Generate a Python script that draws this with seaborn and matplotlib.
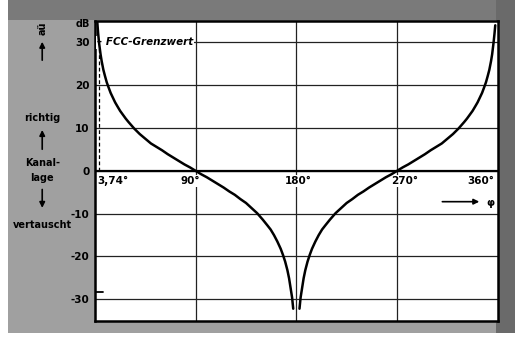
import matplotlib
matplotlib.use("Agg")
import matplotlib.pyplot as plt
import pandas as pd
import seaborn as sns
from matplotlib.patches import Rectangle

# values (phase in degrees, separation in dB)
phi_left = [2.0, 2.8, 3.74, 5, 6, 7.5, 9, 10.5, 12, 14, 16, 18, 20, 22.5, 25, 27.5, 30, 35, 40, 45,
            50, 55, 60, 65, 70, 75, 80, 85, 90, 95, 100, 105, 110, 115, 120, 125, 130, 135,
            140, 145, 150, 154, 157, 160, 163, 166, 168, 170, 172, 173.5, 175, 176.2, 177.2]
db_left = [35.0, 32.2, 29.7, 27.2, 25.6, 23.6, 22.1, 20.7, 19.6, 18.2, 17.1, 16.0, 15.1, 14.0,
           13.1, 12.2, 11.4, 9.9, 8.6, 7.5, 6.4, 5.6, 4.8, 3.9, 3.1, 2.3, 1.5, 0.8, 0.0,
           -0.8, -1.5, -2.3, -3.1, -3.9, -4.8, -5.6, -6.6, -7.5, -8.7, -9.9, -11.4, -12.7,
           -13.7, -15.0, -16.5, -18.2, -19.6, -21.2, -23.2, -25.1, -27.6, -29.6, -32.2]
phi_right = [182.8, 183.8, 185, 186.5, 188, 190, 192, 194, 197, 200, 203, 206, 210, 215,
             220, 225, 230, 235, 240, 245, 250, 255, 260, 265, 270, 275, 280, 285, 290, 295,
             300, 305, 310, 315, 320, 325, 330, 332.5, 335, 337.5, 340, 342, 344, 346, 348,
             349.5, 351, 352.5, 354, 355, 356.3, 357.1, 357.8]
db_right = [-32.2, -29.6, -27.6, -25.1, -23.2, -21.2, -19.6, -18.2, -16.5, -15.0, -13.7, -12.7,
            -11.4, -9.9, -8.7, -7.5, -6.6, -5.6, -4.8, -3.9, -3.1, -2.3, -1.5, -0.8, 0.0,
            0.8, 1.5, 2.3, 3.1, 3.9, 4.8, 5.6, 6.4, 7.5, 8.6, 9.9, 11.4, 12.2, 13.1, 14.0,
            15.1, 16.0, 17.1, 18.2, 19.6, 20.7, 22.1, 23.6, 25.6, 27.2, 30.0, 32.0, 34.0]

y_ticks = [30, 20, 10, 0, -10, -20, -30]
y_labels = ["30", "20", "10", "0", "-10", "-20", "-30"]
x_labels = ["3,74°", "90°", "180°", "270°", "360°"]
fcc_phi = 3.74
fcc_db = 30

sns.set_theme(style="white")
plt.rcParams["font.family"] = ["DejaVu Sans"]
plt.rcParams["text.color"] = "black"
plt.rcParams["ytick.color"] = "black"

fig = plt.figure(figsize=(5.19, 3.39), dpi=100)
fig.patch.set_facecolor("white")
# scanned grey page background
fig.patches.append(Rectangle((0.015, 0.018), 0.977, 0.982, transform=fig.transFigure,
                             facecolor="#a0a0a0", edgecolor="none", zorder=-3))
fig.patches.append(Rectangle((0.015, 0.94), 0.977, 0.06, transform=fig.transFigure,
                             facecolor="#7a7a7a", edgecolor="none", zorder=-2))
fig.patches.append(Rectangle((0.955, 0.018), 0.037, 0.982, transform=fig.transFigure,
                             facecolor="#6a6a6a", edgecolor="none", zorder=-2))

ax = fig.add_axes([0.183, 0.054, 0.776, 0.884])
ax.set_facecolor("white")

left = pd.DataFrame({"phi": phi_left, "db": db_left})
right = pd.DataFrame({"phi": phi_right, "db": db_right})
sns.lineplot(data=left, x="phi", y="db", color="black", linewidth=1.8, sort=False, ax=ax, zorder=6)
sns.lineplot(data=right, x="phi", y="db", color="black", linewidth=1.8, sort=False, ax=ax, zorder=6)

ax.set_xlim(0, 360)
ax.set_ylim(-35, 35)
ax.set_xticks([90, 180, 270])
ax.set_xticklabels([])
ax.set_yticks(y_ticks)
ax.set_yticklabels(y_labels, fontsize=7.5, fontweight="bold", color="black")
ax.tick_params(length=0, pad=4)
ax.grid(True, color="#222222", linewidth=0.9)
ax.axhline(0, color="black", linewidth=1.6, zorder=3)
ax.set_xlabel("")
ax.set_ylabel("")
for s in ax.spines.values():
    s.set_color("black")
    s.set_linewidth(1.8)

# FCC limit
ax.plot([fcc_phi, fcc_phi], [0, fcc_db], color="black", linewidth=0.9, linestyle=(0, (3, 2)), zorder=3)
ax.text(1.5, fcc_db, "– FCC-Grenzwert", fontsize=7.5, style="italic", fontweight="bold",
        va="center", ha="left", zorder=5,
        bbox=dict(facecolor="white", edgecolor="none", pad=0.8))
ax.plot([1, 7], [-28.2, -28.2], color="black", linewidth=1.3, zorder=3)

# x labels under the zero line
lab_kw = dict(fontsize=7.5, fontweight="bold", va="center", zorder=5,
              bbox=dict(facecolor="white", edgecolor="none", pad=0.6))
ax.text(2.5, -2.4, x_labels[0], ha="left", **lab_kw)
ax.text(85, -2.4, x_labels[1], ha="center", **lab_kw)
ax.text(182, -2.4, x_labels[2], ha="center", **lab_kw)
ax.text(277, -2.4, x_labels[3], ha="center", **lab_kw)
ax.text(357, -2.4, x_labels[4], ha="right", **lab_kw)
ax.annotate("", xy=(346, -7.2), xytext=(308, -7.2),
            arrowprops=dict(arrowstyle="-|>", color="black", lw=1.2, mutation_scale=8))
ax.text(350, -7.4, "φ", fontsize=7.5, fontweight="bold", va="center", ha="left")

# left side labels
tr = ax.get_yaxis_transform()
ax.text(-0.012, 34.2, "dB", transform=tr, fontsize=7, fontweight="bold", ha="right", va="center")
cx = -0.131
side_kw = dict(transform=tr, fontsize=7, fontweight="bold", ha="center", va="center", clip_on=False)
ax.text(cx, 33.3, "aü", rotation=90, **side_kw)
ax.annotate("", xy=(cx, 30.8), xytext=(cx, 25.2), xycoords=tr, textcoords=tr,
            arrowprops=dict(arrowstyle="-|>", color="black", lw=1.2, mutation_scale=8))
ax.text(cx, 12.3, "richtig", **side_kw)
ax.annotate("", xy=(cx, 10.2), xytext=(cx, 4.4), xycoords=tr, textcoords=tr,
            arrowprops=dict(arrowstyle="-|>", color="black", lw=1.2, mutation_scale=8))
ax.text(cx, 1.9, "Kanal-", **side_kw)
ax.text(cx, -1.6, "lage", **side_kw)
ax.annotate("", xy=(cx, -9.3), xytext=(cx, -3.7), xycoords=tr, textcoords=tr,
            arrowprops=dict(arrowstyle="-|>", color="black", lw=1.2, mutation_scale=8))
ax.text(cx, -12.6, "vertauscht", **side_kw)

fig.savefig("out.png", dpi=100, facecolor=fig.get_facecolor())
